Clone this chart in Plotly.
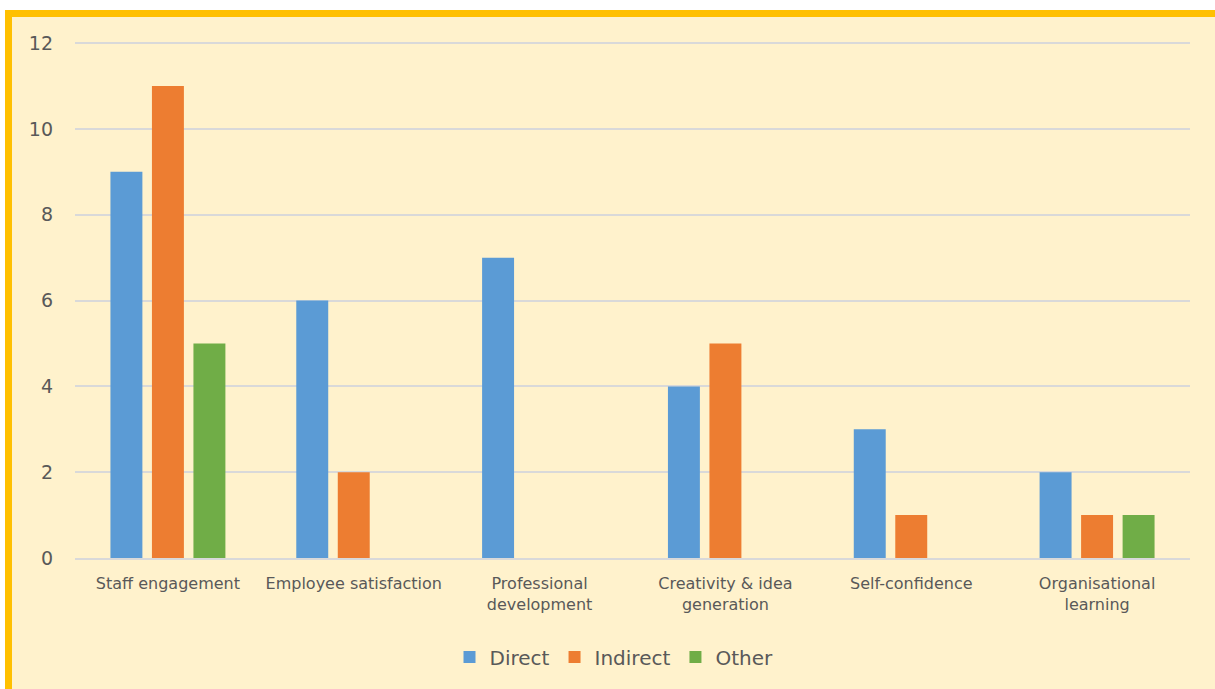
import plotly.graph_objects as go

categories = ["Staff engagement", "Employee satisfaction", "Professional<br>development",
              "Creativity & idea<br>generation", "Self-confidence", "Organisational<br>learning"]
direct = [9, 6, 7, 4, 3, 2]
indirect = [11, 2, 0, 5, 1, 1]
other = [5, 0, 0, 0, 0, 1]

W, H = 1215, 689
L, R, T, B = 75, 1190, 38, 558
pw, ph = R - L, B - T

def px(x):
    return (x - L) / pw

def py(y):
    return (B - y) / ph

fig = go.Figure()
for name, vals, col in [("Direct", direct, "#5B9BD5"), ("Indirect", indirect, "#ED7D31"), ("Other", other, "#70AD47")]:
    fig.add_trace(go.Bar(x=categories, y=vals, name=name, marker=dict(color=col, line=dict(width=0))))

fig.add_shape(type="rect", xref="paper", yref="paper",
              x0=px(8.5), x1=px(1222), y0=py(696), y1=py(13.5),
              line=dict(color="#FFC000", width=7), fillcolor="#FFF2CC", layer="below")

fig.update_layout(
    width=W, height=H,
    margin=dict(l=L, r=W - R, t=T, b=H - B, pad=0),
    paper_bgcolor="white", plot_bgcolor="rgba(0,0,0,0)",
    font=dict(family="DejaVu Sans", color="#595959"),
    barmode="group", bargap=0.33, bargroupgap=0.23,
    showlegend=True,
    legend=dict(orientation="h", x=px(614), xanchor="center", y=py(657), yanchor="middle",
                font=dict(size=20, color="#595959"), bgcolor="rgba(0,0,0,0)"),
    xaxis=dict(showgrid=False, showline=True, linecolor="#D9D9D9", linewidth=2,
               tickfont=dict(size=16, color="#595959"), ticks="", ticklabelstandoff=10),
    yaxis=dict(range=[0, 12.12], tickvals=[0, 2, 4, 6, 8, 10, 12], showgrid=True,
               gridcolor="#D9D9D9", gridwidth=2,
               zeroline=False, showline=False, tickfont=dict(size=19, color="#595959"),
               ticks="", ticklabelstandoff=21),
)

fig.write_html("out.html")
